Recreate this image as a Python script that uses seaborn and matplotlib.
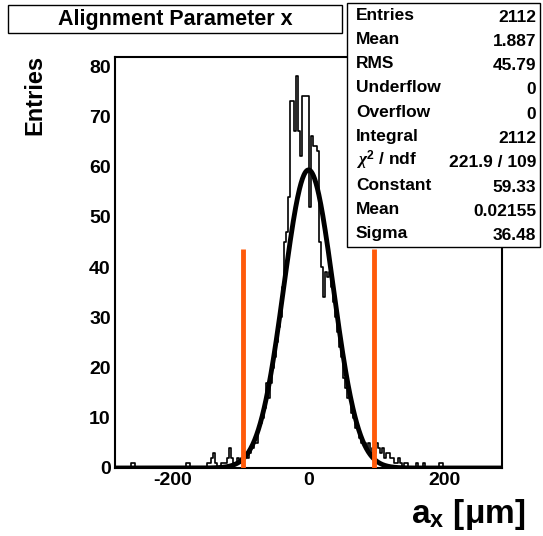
import numpy as np
import pandas as pd
import matplotlib
matplotlib.use('Agg')
import matplotlib.pyplot as plt
import seaborn as sns
from matplotlib.patches import Rectangle
from matplotlib.ticker import MultipleLocator

# histogram of alignment parameter x (bin width 3 um, left edges -285 ... 282)
bin_lo = -285
bin_w = 3
counts = [
    0, 0, 0, 0, 0, 0, 0, 0, 1, 1,
    0, 0, 0, 0, 0, 0, 0, 0, 0, 0,
    0, 0, 0, 0, 0, 0, 0, 0, 0, 0,
    0, 0, 0, 0, 0, 1, 1, 0, 0, 0,
    0, 0, 0, 0, 0, 1, 1, 2, 3, 1,
    0, 0, 1, 1, 1, 2, 4, 2, 1, 1,
    2, 1, 2, 2, 3, 2, 3, 4, 5, 5,
    8, 9, 10, 12, 17, 14, 17, 20, 22, 25,
    28, 30, 36, 45, 47, 54, 73, 73, 67, 78,
    67, 62, 74, 74, 74, 52, 66, 64, 64, 63,
    45, 40, 34, 39, 38, 39, 36, 33, 30, 27,
    24, 22, 18, 16, 14, 14, 11, 10, 8, 8,
    6, 5, 5, 4, 5, 3, 4, 3, 5, 4,
    3, 4, 2, 3, 3, 2, 2, 1, 1, 2,
    1, 0, 1, 1, 0, 0, 0, 0, 1, 0,
    0, 1, 0, 0, 0, 0, 0, 0, 0, 1,
    1, 0, 0, 0, 0, 0, 0, 0, 0, 0,
    0, 0, 0, 0, 0, 0, 0, 0, 0, 0,
    0, 0, 0, 0, 0, 0, 0, 0, 0, 0,
]

# gaussian fit result
fit_const = 59.33
fit_mean = 0.02155
fit_sigma = 36.48

# cut lines
cut_x = [-96, 96]
cut_h = 43.5

stat_labels = ['Entries', 'Mean', 'RMS', 'Underflow', 'Overflow', 'Integral',
               r'$\chi^2$ / ndf', 'Constant', 'Mean', 'Sigma']
stat_values = ['2112', '1.887', '45.79', '0', '0', '2112',
               '221.9 / 109', '59.33', '0.02155', '36.48']

sns.set_style('white')
plt.rcParams['font.family'] = ['Liberation Sans', 'DejaVu Sans']
plt.rcParams['font.weight'] = 'bold'
plt.rcParams['text.color'] = 'black'
plt.rcParams['xtick.color'] = 'black'
plt.rcParams['ytick.color'] = 'black'
plt.rcParams['axes.unicode_minus'] = False
plt.rcParams['mathtext.fontset'] = 'custom'
plt.rcParams['mathtext.rm'] = 'Liberation Sans:bold'
plt.rcParams['mathtext.it'] = 'Liberation Serif:italic'
plt.rcParams['mathtext.bf'] = 'Liberation Sans:bold'

edges = [bin_lo + bin_w * i for i in range(len(counts) + 1)]
centers = [e + bin_w / 2 for e in edges[:-1]]
df = pd.DataFrame({'x': centers, 'n': counts})

fig = plt.figure(figsize=(5.43, 5.36), dpi=100)
ax = fig.add_axes([115 / 543, 1 - 468 / 536, 387 / 543, 411 / 536])

sns.histplot(data=df, x='x', weights='n', bins=edges, element='step', fill=False,
             color='black', linewidth=1.2, ax=ax)

xf = np.linspace(edges[0], edges[-1], 800)
yf = fit_const * np.exp(-0.5 * ((xf - fit_mean) / fit_sigma) ** 2)
sns.lineplot(x=xf, y=yf, color='black', linewidth=3.5, ax=ax)

for cx in cut_x:
    ax.vlines(cx, 0, cut_h, color='#ff5a0a', linewidth=3.5, zorder=5)

ax.set_xlim(edges[0], edges[-1])
ax.set_ylim(0, 81.8)
ax.xaxis.set_major_locator(MultipleLocator(200))
ax.xaxis.set_minor_locator(MultipleLocator(50))
ax.yaxis.set_major_locator(MultipleLocator(10))
ax.yaxis.set_minor_locator(MultipleLocator(2))
ax.tick_params(which='major', direction='in', length=8, width=1.2, labelsize=14,
               top=False, right=False, pad=3, colors='black')
ax.tick_params(which='minor', direction='in', length=4, width=1.2,
               top=False, right=False, colors='black')
for s in ax.spines.values():
    s.set_linewidth(1.5)
    s.set_color('black')
ax.set_xlabel('')
ax.set_ylabel('')

fig.text(525 / 543, 1 - 515 / 536, r'a$_{\mathregular{x}}$ [$\mathregular{\mu}$m]',
         ha='right', va='center', fontsize=24, fontweight='bold')
fig.text(35 / 543, 1 - 55 / 536, 'Entries', rotation=90, ha='center', va='top',
         fontsize=17, fontweight='bold')

# title box
fig.add_artist(Rectangle((8 / 543, 1 - 33 / 536), 334 / 543, 28 / 536,
                         transform=fig.transFigure, facecolor='white',
                         edgecolor='black', linewidth=1.0, zorder=10))
fig.text(175 / 543, 1 - 19 / 536, 'Alignment Parameter x', ha='center', va='center',
         fontsize=15.5, fontweight='bold', zorder=11)

# stats box
fig.add_artist(Rectangle((347 / 543, 1 - 247 / 536), 193 / 543, 244 / 536,
                         transform=fig.transFigure, facecolor='white',
                         edgecolor='black', linewidth=1.0, zorder=10))
for i, (lab, val) in enumerate(zip(stat_labels, stat_values)):
    yy = 1 - (15 + 24.3 * i) / 536
    fig.text(356 / 543, yy, lab, ha='left', va='center', fontsize=12.5,
             fontweight='bold', zorder=11)
    fig.text(536 / 543, yy - 2 / 536, val, ha='right', va='center', fontsize=12.5,
             fontweight='bold', zorder=11)

fig.savefig('out.png', dpi=100)
